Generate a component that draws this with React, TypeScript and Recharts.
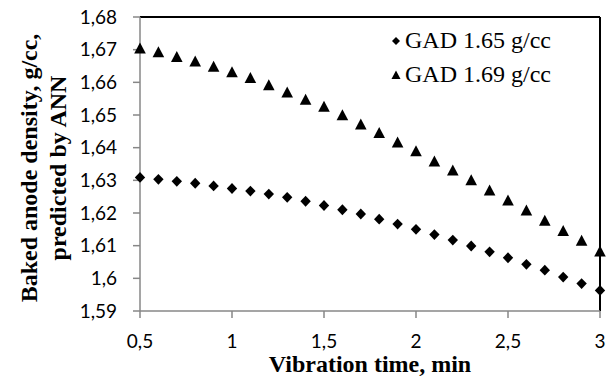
import React from 'react';
import { ScatterChart, Scatter, XAxis, YAxis, ReferenceLine, Legend } from 'recharts';

const time = [0.5, 0.6, 0.7, 0.8, 0.9, 1.0, 1.1, 1.2, 1.3, 1.4, 1.5, 1.6, 1.7, 1.8, 1.9, 2.0, 2.1, 2.2, 2.3, 2.4, 2.5, 2.6, 2.7, 2.8, 2.9, 3.0];
const gad165 = [1.6309, 1.6303, 1.6297, 1.6291, 1.6283, 1.6275, 1.6267, 1.6258, 1.6248, 1.6236, 1.6223, 1.621, 1.6197, 1.6181, 1.6166, 1.615, 1.6134, 1.6117, 1.6099, 1.6081, 1.6063, 1.6043, 1.6025, 1.6004, 1.5984, 1.5963];
const gad169 = [1.6703, 1.6691, 1.6677, 1.6663, 1.6647, 1.663, 1.6612, 1.659, 1.6568, 1.6546, 1.6524, 1.6498, 1.647, 1.6444, 1.6415, 1.6388, 1.6357, 1.6329, 1.6299, 1.6268, 1.6237, 1.6207, 1.6175, 1.6144, 1.6114, 1.6081];
const xTicks = [0.5, 1, 1.5, 2, 2.5, 3];
const yTicks = [1.59, 1.6, 1.61, 1.62, 1.63, 1.64, 1.65, 1.66, 1.67, 1.68];
const seriesNames = ['GAD 1.65 g/cc', 'GAD 1.69 g/cc'];

const data165 = time.map((t, i) => ({ x: t, y: gad165[i] }));
const data169 = time.map((t, i) => ({ x: t, y: gad169[i] }));

const fmt = (v: number) => String(v).replace('.', ',');

const Diamond = (props: any) => {
  const { cx, cy } = props;
  if (cx == null || cy == null) return null;
  const r = 5.2;
  return <polygon points={`${cx},${cy - 5.4} ${cx + r},${cy} ${cx},${cy + 5.4} ${cx - r},${cy}`} fill="#000" />;
};

const Triangle = (props: any) => {
  const { cx, cy } = props;
  if (cx == null || cy == null) return null;
  const w = 5.8;
  return <polygon points={`${cx},${cy - 6.3} ${cx + w},${cy + 4.7} ${cx - w},${cy + 4.7}`} fill="#000" />;
};

const serif = '"Liberation Serif", "Times New Roman", serif';
const sans = 'Lato, "Open Sans", sans-serif';
const axisGray = '#878787';

const LegendContent = () => (
  <div style={{ fontFamily: serif, fontSize: 24, color: '#000', lineHeight: '33.5px', textAlign: 'left' }}>
    {seriesNames.map((n, i) => (
      <div key={n} style={{ display: 'flex', alignItems: 'center', whiteSpace: 'nowrap' }}>
        <svg width={12} height={12} style={{ marginRight: 3 }}>
          {i === 0 ? (
            <polygon points="6,2 10,6 6,10 2,6" fill="#000" />
          ) : (
            <polygon points="6,2.5 10.5,11 1.5,11" fill="#000" />
          )}
        </svg>
        <span>{n}</span>
      </div>
    ))}
  </div>
);

const YTitle = () => (
  <g fontFamily={serif} fontWeight="bold" fontSize={24} fill="#000">
    <text transform="rotate(-90)" x={-168} y={37} textAnchor="middle">Baked anode density, g/cc,</text>
    <text transform="rotate(-90)" x={-168} y={66} textAnchor="middle">predicted by ANN</text>
  </g>
);

const XTitle = () => (
  <text x={370} y={372} textAnchor="middle" fontFamily={serif} fontWeight="bold" fontSize={24} fill="#000">
    Vibration time, min
  </text>
);

export default function App() {
  return (
    <div style={{ position: 'absolute', left: 0, top: 0, width: 610, height: 377, background: '#fff' }}>
      <ScatterChart width={610} height={377} margin={{ top: 17, right: 10, bottom: 0, left: 0 }}>
        <XAxis
          type="number"
          dataKey="x"
          domain={[0.5, 3]}
          ticks={xTicks}
          tickFormatter={fmt}
          height={66}
          axisLine={{ stroke: axisGray, strokeWidth: 1.5 }}
          tickLine={{ stroke: axisGray, strokeWidth: 1.5 }}
          tickSize={7}
          tickMargin={17}
          tick={{ fill: '#000', fontFamily: sans, fontSize: 19 }}
          label={{ content: () => <XTitle /> }}
        />
        <YAxis
          type="number"
          dataKey="y"
          domain={[1.59, 1.68]}
          ticks={yTicks}
          tickFormatter={fmt}
          width={140}
          axisLine={{ stroke: axisGray, strokeWidth: 1.5 }}
          tickLine={{ stroke: axisGray, strokeWidth: 1.5 }}
          tickSize={7}
          tickMargin={16}
          tick={{ fill: '#000', fontFamily: sans, fontSize: 19 }}
          label={{ content: () => <YTitle /> }}
        />
        <ReferenceLine y={1.68} stroke="#000" strokeWidth={2} />
        <ReferenceLine x={3} stroke="#000" strokeWidth={2} />
        <Scatter name={seriesNames[0]} data={data165} shape={<Diamond />} isAnimationActive={false} />
        <Scatter name={seriesNames[1]} data={data169} shape={<Triangle />} isAnimationActive={false} />
        <Legend
          layout="horizontal"
          verticalAlign="middle"
          align="center"
          content={<LegendContent />}
          wrapperStyle={{ position: 'absolute', left: 390, top: 24, width: 210 }}
        />
      </ScatterChart>
    </div>
  );
}
